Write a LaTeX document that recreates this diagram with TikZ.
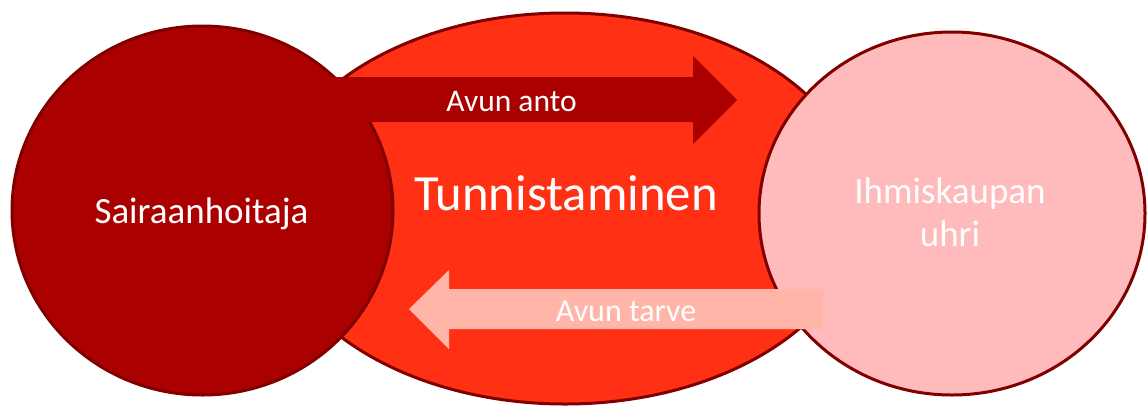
\documentclass[tikz,border=0pt]{standalone}
\usepackage{fontspec}
\setmainfont{Carlito}
\definecolor{darkred}{HTML}{AA0000}
\definecolor{edgered}{HTML}{800000}
\definecolor{midred}{HTML}{FF3014}
\definecolor{lightpink}{HTML}{FFBBBB}
\definecolor{arrowpink}{HTML}{FFB5A8}
\tikzset{
  blob/.style={draw=edgered, line width=3pt},
  label/.style={text=white, anchor=base, inner sep=0pt, align=center},
}
\begin{document}
\begin{tikzpicture}[x=1pt,y=-1pt]
\useasboundingbox (0,0) rectangle (1147,405);
% central ellipse
\path[blob, fill=midred] (565,208.5) ellipse [x radius=297, y radius=195.5];
% left circle
\path[blob, fill=darkred] (202.5,210.5) ellipse [x radius=190.5, y radius=184.5];
% right circle
\path[blob, fill=lightpink] (952,213.5) ellipse [x radius=193, y radius=181.5];
% top arrow (Avun anto)
\fill[darkred] (320,77) -- (693,77) -- (693,56) -- (737,100) -- (693,144) -- (693,122) -- (320,122) -- cycle;
% bottom arrow (Avun tarve)
\fill[arrowpink] (823,289) -- (449,289) -- (449,270) -- (409,309) -- (449,349) -- (449,329) -- (823,329) -- cycle;
% texts
\node[label, font=\fontsize{50.7}{60}\selectfont] (tunn) at (566,210) {Tunnistaminen};
\node[label, font=\fontsize{31.5}{38}\selectfont] (anto) at (511.5,111.7) {Avun anto};
\node[label, font=\fontsize{32}{38}\selectfont] (tarve) at (626,321) {Avun tarve};
\node[label, font=\fontsize{37}{43}\selectfont] (sair) at (201.5,223) {Sairaanhoitaja};
\node[label, font=\fontsize{37}{43}\selectfont] (ihm1) at (950,203) {Ihmiskaupan};
\node[label, font=\fontsize{37}{43}\selectfont] (ihm2) at (950,246) {uhri};
\end{tikzpicture}
\end{document}
